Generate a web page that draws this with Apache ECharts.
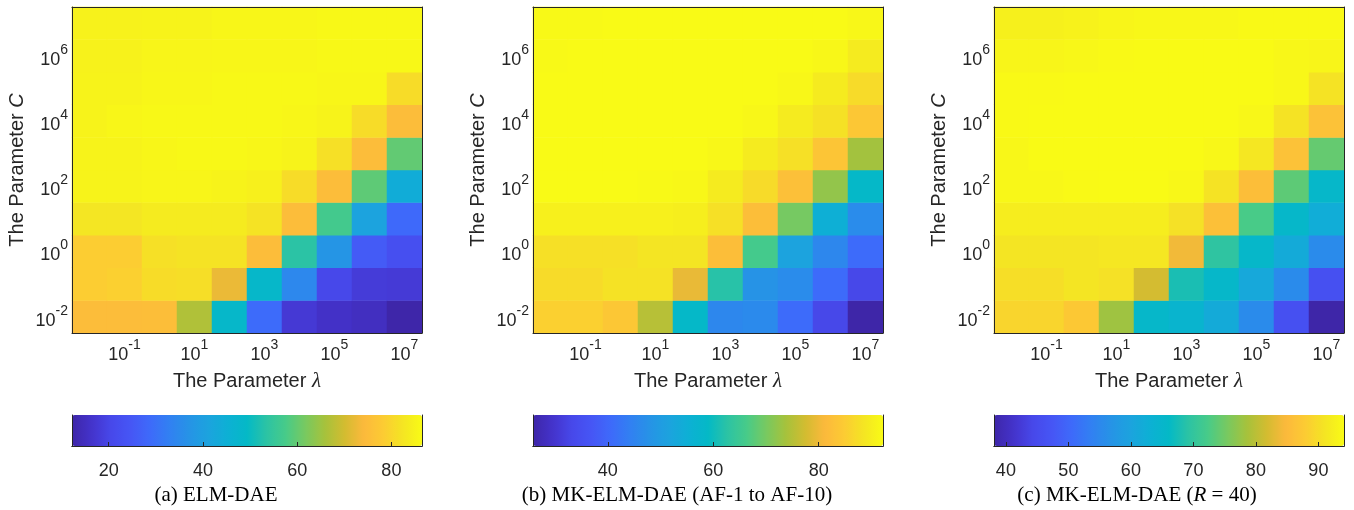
<!DOCTYPE html>
<html>
<head>
<meta charset="utf-8">
<title>ELM-DAE parameter sensitivity</title>
<script src="https://cdn.jsdelivr.net/npm/echarts@6/dist/echarts.min.js"></script>
<style>
    html, body { margin: 0; padding: 0; background: #fff; }
    #container { width: 1354px; height: 510px; }
</style>
</head>
<body>
<div id="container"></div>
<script>
// exponents of the grid: lambda on x, C on y (10^-2 ... 10^7)
var lambdaExp = ['-2', '-1', '0', '1', '2', '3', '4', '5', '6', '7'];
var cExp = ['-2', '-1', '0', '1', '2', '3', '4', '5', '6', '7'];

// accuracy (%), one row per C (bottom row first), one column per lambda
var accELM = [
    [75.0, 75.0, 75.3, 66.8, 48.6, 28.9, 17.5, 15.8, 15.0, 12.3],
    [78.5, 79.0, 81.0, 81.3, 72.4, 48.6, 34.5, 20.5, 18.1, 17.8],
    [78.5, 78.5, 81.5, 82.0, 82.0, 75.0, 53.4, 37.5, 25.6, 22.6],
    [82.5, 82.5, 83.5, 83.5, 83.5, 82.0, 75.0, 56.8, 41.2, 28.5],
    [85.0, 85.0, 85.3, 85.3, 85.0, 84.5, 81.0, 75.0, 59.5, 44.1],
    [85.0, 85.0, 85.5, 86.0, 86.0, 85.5, 85.0, 81.5, 75.0, 59.8],
    [85.0, 85.5, 86.0, 86.0, 86.0, 86.0, 85.5, 85.0, 81.0, 75.0],
    [85.0, 85.0, 85.5, 85.5, 86.0, 86.0, 86.0, 85.5, 85.5, 81.0],
    [84.8, 84.8, 85.3, 85.3, 85.5, 85.5, 85.5, 86.0, 86.0, 86.0],
    [84.8, 84.8, 85.0, 85.0, 85.5, 85.5, 85.5, 86.0, 86.0, 86.0]
];
var accMK10 = [
    [85.5, 85.5, 84.1, 75.2, 58.6, 45.7, 46.2, 40.7, 33.1, 25.8],
    [87.1, 87.1, 88.1, 88.1, 79.5, 62.3, 48.0, 46.5, 40.7, 33.1],
    [87.8, 87.8, 87.8, 88.5, 88.5, 82.2, 65.9, 51.7, 45.7, 40.7],
    [90.4, 90.4, 90.4, 90.4, 90.0, 87.8, 82.2, 69.9, 55.0, 46.5],
    [92.0, 92.0, 92.0, 91.8, 91.5, 89.5, 87.1, 82.5, 72.2, 58.6],
    [92.0, 92.0, 92.0, 92.0, 92.0, 91.5, 89.5, 87.8, 83.5, 73.5],
    [92.0, 92.0, 92.0, 92.0, 92.0, 92.0, 91.5, 89.5, 88.0, 84.0],
    [92.0, 92.0, 92.0, 92.0, 92.0, 92.0, 92.0, 91.5, 89.5, 87.1],
    [91.8, 92.0, 92.0, 92.0, 92.0, 92.0, 92.0, 92.0, 91.5, 89.5],
    [91.8, 91.8, 92.0, 92.0, 92.0, 92.0, 92.0, 92.0, 92.0, 91.5]
];
var accMK40 = [
    [89.1, 89.1, 87.4, 78.1, 65.5, 64.4, 61.6, 55.5, 46.2, 38.1],
    [90.2, 90.2, 91.0, 90.5, 81.8, 67.8, 65.5, 61.0, 55.5, 46.2],
    [91.0, 91.0, 91.0, 91.3, 91.3, 84.0, 69.5, 65.5, 61.6, 55.5],
    [92.1, 92.1, 92.1, 92.1, 92.1, 90.5, 86.0, 72.3, 65.5, 62.2],
    [93.5, 93.5, 93.8, 94.0, 94.0, 93.5, 90.7, 85.7, 73.7, 65.5],
    [93.5, 94.0, 94.0, 94.0, 94.0, 94.0, 93.5, 91.3, 86.3, 74.2],
    [93.8, 94.0, 94.0, 94.0, 94.0, 94.0, 94.0, 93.5, 90.7, 86.3],
    [93.8, 93.8, 94.0, 94.0, 94.0, 94.0, 94.0, 94.0, 93.5, 90.7],
    [93.3, 93.3, 93.5, 93.8, 94.0, 94.0, 94.0, 94.0, 93.5, 93.3],
    [92.5, 92.5, 92.8, 93.3, 93.5, 93.5, 93.5, 93.8, 93.8, 93.8]
];

// colour limits and colorbar ticks of each panel
var limELM = [12.2, 86.5];
var limMK10 = [25.8, 92.2];
var limMK40 = [38.1, 94.1];
var ticksELM = [20, 40, 60, 80];
var ticksMK10 = [40, 60, 80];
var ticksMK40 = [40, 50, 60, 70, 80, 90];

var captions = [
    '(a) ELM-DAE',
    '(b) MK-ELM-DAE (AF-1 to AF-10)',
    '(c) MK-ELM-DAE ({i|R} = 40)'
];

// parula
var parula = ['#3E26A8', '#4433CB', '#4748EA', '#4656F5', '#3E6AFA', '#3180F2', '#2693E6',
    '#1CA3DE', '#0DB0D4', '#04B9C6', '#2CC3A4', '#48CB88', '#78C960', '#A6C23C',
    '#D2BC30', '#FCB93C', '#FCCB33', '#F4E523', '#F9FB15'];

var panels = [
    {acc: accELM, lim: limELM, ticks: ticksELM},
    {acc: accMK10, lim: limMK10, ticks: ticksMK10},
    {acc: accMK40, lim: limMK40, ticks: ticksMK40}
];

var panelLeft = [72, 533, 994];
var captionX = [216, 677, 1137];
var ink = '#262626';
var sans = 'Liberation Sans';

function powLabel(v) {
    return '{b|10}{s|' + v + '}';
}
var powRich = {
    b: {fontSize: 18, fontFamily: sans, color: ink, verticalAlign: 'bottom'},
    s: {fontSize: 14, fontFamily: sans, color: ink, verticalAlign: 'bottom', padding: [0, 0, 12, 0]}
};
var oddIdx = function (i) { return i % 2 === 1; };
var evenIdx = function (i) { return i % 2 === 0; };
var axLine = {show: true, lineStyle: {color: ink, width: 1}};

var myChart = echarts.init(document.getElementById('container'));
var option = {
    animation: false,
    backgroundColor: '#fff',
    grid: [], xAxis: [], yAxis: [], visualMap: [], series: [], graphic: []
};

panels.forEach(function (p, k) {
    var left = panelLeft[k];
    // heatmap grid and colorbar grid
    option.grid.push({left: left, top: 7, width: 350, height: 326});
    option.grid.push({left: left, top: 415, width: 350, height: 31});
    var gh = 2 * k, gc = 2 * k + 1;

    option.xAxis.push({
        type: 'category', gridIndex: gh, data: lambdaExp, position: 'bottom', z: 10,
        axisLine: axLine,
        axisTick: {inside: true, length: 4, alignWithLabel: true, interval: oddIdx, lineStyle: {color: ink}},
        axisLabel: {interval: oddIdx, margin: 5, formatter: powLabel, rich: powRich},
        name: 'The Parameter {i|λ}', nameLocation: 'middle', nameGap: 38,
        nameTextStyle: {fontSize: 20, fontFamily: sans, color: ink,
            rich: {i: {fontSize: 21, fontFamily: 'Liberation Serif', fontStyle: 'italic', color: ink}}}
    });
    option.xAxis.push({
        type: 'category', gridIndex: gh, data: lambdaExp, position: 'top', z: 10,
        axisLine: axLine,
        axisTick: {inside: true, length: 4, alignWithLabel: true, interval: oddIdx, lineStyle: {color: ink}},
        axisLabel: {show: false}
    });
    option.xAxis.push({
        type: 'value', gridIndex: gc, min: p.lim[0], max: p.lim[1], position: 'bottom', z: 10,
        axisLine: axLine, splitLine: {show: false},
        axisTick: {inside: true, length: 4, customValues: p.ticks, lineStyle: {color: ink}},
        axisLabel: {customValues: p.ticks, margin: 16, fontSize: 18, fontFamily: sans, color: ink}
    });
    option.xAxis.push({
        type: 'value', gridIndex: gc, min: p.lim[0], max: p.lim[1], position: 'top', z: 10,
        axisLine: axLine, splitLine: {show: false}, axisTick: {show: false}, axisLabel: {show: false}
    });

    option.yAxis.push({
        type: 'category', gridIndex: gh, data: cExp, position: 'left', z: 10,
        axisLine: axLine,
        axisTick: {inside: true, length: 4, alignWithLabel: true, interval: evenIdx, lineStyle: {color: ink}},
        axisLabel: {interval: evenIdx, margin: 4, formatter: powLabel, rich: powRich},
        name: 'The Parameter {i|C}', nameLocation: 'middle', nameGap: 45,
        nameTextStyle: {fontSize: 20, fontFamily: sans, color: ink,
            rich: {i: {fontSize: 20, fontFamily: sans, fontStyle: 'italic', color: ink}}}
    });
    option.yAxis.push({
        type: 'category', gridIndex: gh, data: cExp, position: 'right', z: 10,
        axisLine: axLine,
        axisTick: {inside: true, length: 4, alignWithLabel: true, interval: evenIdx, lineStyle: {color: ink}},
        axisLabel: {show: false}
    });
    option.yAxis.push({
        type: 'value', gridIndex: gc, min: 0, max: 1, position: 'left', z: 10,
        axisLine: axLine, splitLine: {show: false}, axisTick: {show: false}, axisLabel: {show: false}
    });
    option.yAxis.push({
        type: 'value', gridIndex: gc, min: 0, max: 1, position: 'right', z: 10,
        axisLine: axLine, splitLine: {show: false}, axisTick: {show: false}, axisLabel: {show: false}
    });

    var cells = [];
    p.acc.forEach(function (row, j) {
        row.forEach(function (v, i) {
            cells.push([i, j, v]);
        });
    });
    option.series.push({
        type: 'heatmap',
        xAxisIndex: 4 * k,
        yAxisIndex: 4 * k,
        data: cells,
        itemStyle: {borderWidth: 0},
        emphasis: {disabled: true}
    });

    option.visualMap.push({
        type: 'continuous',
        seriesIndex: k,
        min: p.lim[0],
        max: p.lim[1],
        orient: 'horizontal',
        left: left,
        top: 415,
        itemWidth: 31,
        itemHeight: 350,
        padding: 0,
        calculable: false,
        hoverLink: false,
        inRange: {color: parula}
    });

    option.graphic.push({
        type: 'text',
        x: captionX[k],
        y: 495,
        style: {
            text: captions[k],
            fontSize: 21,
            fontFamily: 'Liberation Serif',
            fill: '#000',
            align: 'center',
            verticalAlign: 'middle',
            rich: {i: {fontSize: 21, fontFamily: 'Liberation Serif', fontStyle: 'italic', fill: '#000'}}
        }
    });
});

myChart.setOption(option);
</script>
</body>
</html>
